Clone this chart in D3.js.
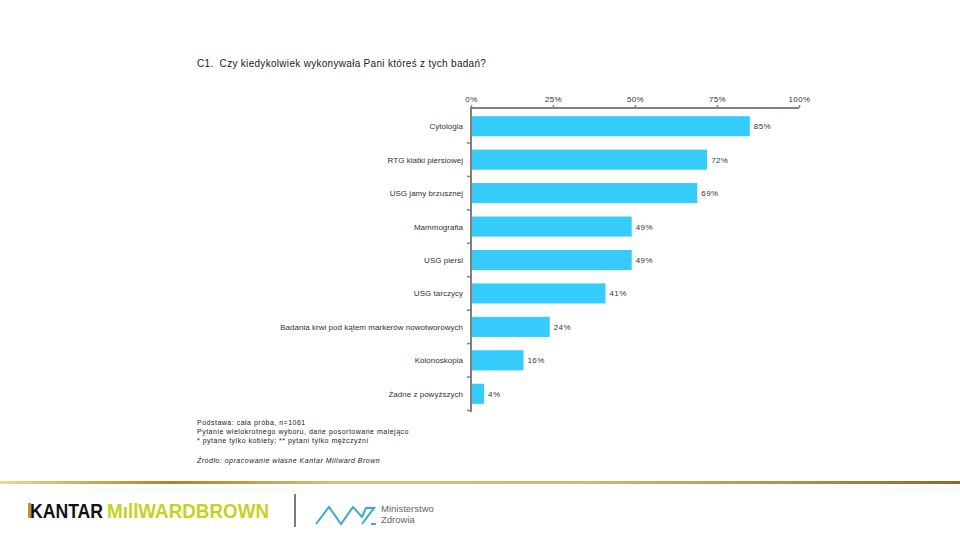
<!DOCTYPE html>
<html><head><meta charset="utf-8">
<script src="https://cdn.jsdelivr.net/npm/d3@7"></script>
<style>
html,body{margin:0;padding:0;background:#fff;}
svg{display:block;font-family:"Liberation Sans",Arial,sans-serif;}
</style></head>
<body>
<svg id="chart" width="960" height="540"></svg>
<script>
const categories = ["Cytologia","RTG klatki piersiowej","USG jamy brzusznej","Mammografia","USG piersi","USG tarczycy","Badania krwi pod kątem markerów nowotworowych","Kolonoskopia","Żadne z powyższych"];
const values = [85,72,69,49,49,41,24,16,4];
const valueLabels = ["85%","72%","69%","49%","49%","41%","24%","16%","4%"];
const xTicks = [0,25,50,75,100];
const xTickLabels = ["0%","25%","50%","75%","100%"];
const title = "C1.  Czy kiedykolwiek wykonywała Pani któreś z tych badań?";
const notes = ["Podstawa: cała próba, n=1061","Pytanie wielokrotnego wyboru, dane posortowane malejąco","* pytane tylko kobiety; ** pytani tylko mężczyźni"];
const source = "Źródło: opracowanie własne Kantar Millward Brown";

const svg = d3.select("#chart");
const x = d3.scaleLinear().domain([0,100]).range([471,799]);
const y = d3.scaleBand().domain(categories).range([109.5,410.5]).paddingInner(0.4).paddingOuter(0.2);

// title
svg.append("text").attr("x",197).attr("y",67).attr("font-size",10).attr("fill","#222")
  .attr("letter-spacing",0.3).attr("xml:space","preserve").text(title);

// bars
svg.append("g").selectAll("rect").data(categories).join("rect")
  .attr("x",x(0)).attr("y",d=>y(d)).attr("height",y.bandwidth())
  .attr("width",(d,i)=>x(values[i])-x(0)).attr("fill","#35cbfb");

// value labels
svg.append("g").selectAll("text").data(categories).join("text")
  .attr("x",(d,i)=>x(values[i])+4).attr("y",d=>y(d)+y.bandwidth()/2+3)
  .attr("font-size",8).attr("fill","#333").attr("letter-spacing",0.4)
  .text((d,i)=>valueLabels[i]);

// category labels
svg.append("g").selectAll("text").data(categories).join("text")
  .attr("x",463).attr("y",d=>y(d)+y.bandwidth()/2+3)
  .attr("text-anchor","end").attr("font-size",8).attr("fill","#333").attr("letter-spacing",0.02)
  .text(d=>d);

// top axis
const xAxis = d3.axisTop(x).tickValues(xTicks).tickSize(3).tickFormat((d,i)=>xTickLabels[i]);
const gx = svg.append("g").attr("transform","translate(0,108)").call(xAxis);
gx.select(".domain").attr("stroke","#808080").attr("stroke-width",2).attr("d",`M${x(0)},0H${x(100)}`);
gx.selectAll(".tick line").attr("stroke","#808080").attr("stroke-width",1.5);
gx.selectAll(".tick text").attr("font-size",8).attr("fill","#333").attr("letter-spacing",0.4)
  .attr("font-family","Liberation Sans, Arial, sans-serif").attr("y",-6);

// left axis line and ticks at band boundaries
svg.append("line").attr("x1",x(0)).attr("x2",x(0)).attr("y1",107).attr("y2",412)
  .attr("stroke","#808080").attr("stroke-width",2);
const step = y.step();
svg.append("g").selectAll("line").data(categories).join("line")
  .attr("x1",x(0)-4).attr("x2",x(0))
  .attr("y1",d=>y(d)+y.bandwidth()/2+step/2).attr("y2",d=>y(d)+y.bandwidth()/2+step/2)
  .attr("stroke","#808080").attr("stroke-width",1.5);

// notes
const ng = svg.append("g").attr("font-size",7).attr("fill","#222").attr("letter-spacing",0.5);
notes.forEach((t,i)=>ng.append("text").attr("x",197).attr("y",425+i*9.2).text(t));
ng.append("text").attr("x",197).attr("y",463).attr("font-style","italic").text(source);

// gold line
const defs = svg.append("defs");
const lg = defs.append("linearGradient").attr("id","gold").attr("x1","0").attr("x2","1");
[[0,"#ecd98a"],[0.18,"#a7852c"],[0.35,"#d9c072"],[0.6,"#d4bb6c"],[0.8,"#b29a4a"],[1,"#8a6b22"]]
  .forEach(([o,c])=>lg.append("stop").attr("offset",o).attr("stop-color",c));
svg.append("rect").attr("x",0).attr("y",481).attr("width",960).attr("height",3).attr("fill","url(#gold)");

// logos
svg.append("rect").attr("x",28).attr("y",503).attr("width",3).attr("height",15).attr("fill","#b8962e");
svg.append("text").attr("x",30).attr("y",518).attr("font-size",20).attr("font-weight","bold")
  .attr("font-family","Liberation Sans, Arial, sans-serif").attr("fill","#111")
  .attr("textLength",73).attr("lengthAdjust","spacingAndGlyphs").text("KANTAR");
svg.append("text").attr("x",107).attr("y",518).attr("font-size",20).attr("font-weight","bold")
  .attr("font-family","Liberation Sans, Arial, sans-serif").attr("fill","#c5d21e")
  .attr("textLength",162).attr("lengthAdjust","spacingAndGlyphs").text("MıllWARDBROWN");
svg.append("line").attr("x1",295).attr("x2",295).attr("y1",494).attr("y2",527).attr("stroke","#222").attr("stroke-width",1.2);
svg.append("polyline").attr("points","316,524 329,507 341,524 353,507 362,517 366,508 374,508 362,524")
  .attr("fill","none").attr("stroke","#3aa9d4").attr("stroke-width",2);
svg.append("line").attr("x1",371).attr("x2",376).attr("y1",524).attr("y2",524).attr("stroke","#3aa9d4").attr("stroke-width",2);
svg.append("text").attr("x",381).attr("y",512).attr("font-size",9.5).attr("fill","#666").text("Ministerstwo");
svg.append("text").attr("x",381).attr("y",523).attr("font-size",9.5).attr("fill","#666").text("Zdrowia");
</script>
</body></html>
